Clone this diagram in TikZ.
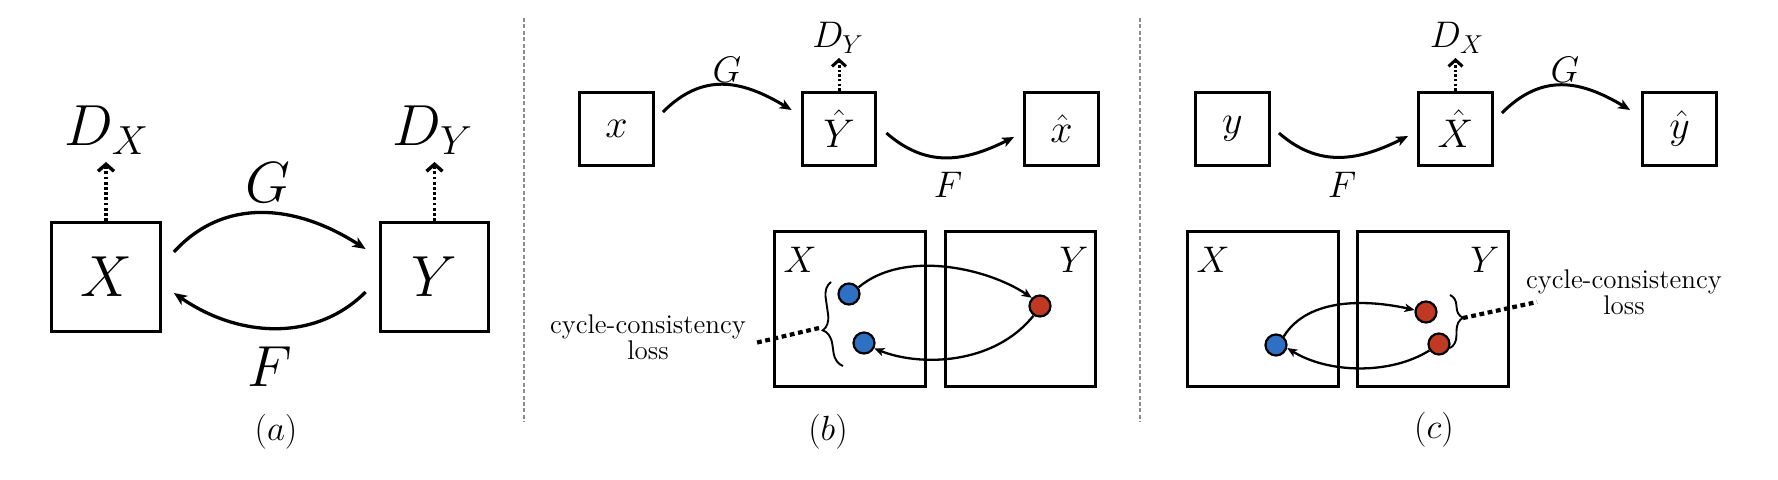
\RequirePackage{fix-cm}
\documentclass[tikz,border=0pt]{standalone}
\usetikzlibrary{arrows.meta,calc,decorations.pathreplacing}
\definecolor{dotblue}{RGB}{46,112,196}
\definecolor{dotred}{RGB}{192,57,34}
\begin{document}
\begin{tikzpicture}[x=0.5pt,y=-0.5pt,
  box/.style={draw, line width=1.6pt, inner sep=0pt},
  abox/.style={box, minimum size=54.3pt},
  sbox/.style={box, minimum size=36.8pt},
  lbox/.style={box, minimum width=75.3pt, minimum height=77.3pt},
  fbig/.style={font=\fontsize{29pt}{35pt}\selectfont},
  fmid/.style={font=\fontsize{20pt}{24pt}\selectfont},
  flab/.style={font=\fontsize{18.5pt}{22pt}\selectfont},
  fcorner/.style={font=\fontsize{18.5pt}{22pt}\selectfont},
  fcap/.style={font=\fontsize{17.5pt}{21pt}\selectfont},
  losstxt/.style={font=\fontsize{13.5pt}{13pt}\selectfont, align=center, inner sep=0pt},
  arrA/.style={line width=1.65pt, -{Stealth[length=6.5pt,width=5.5pt,inset=1.8pt]}},
  arrB/.style={line width=1.5pt, -{Stealth[length=6pt,width=5pt,inset=1.6pt]}},
  arrC/.style={line width=1.15pt, -{Stealth[length=5pt,width=4.2pt,inset=1.3pt]}},
  darrA/.style={line width=1.7pt, dash pattern=on 1.4pt off 1.2pt, -{Straight Barb[length=3.5pt,width=8pt]}},
  darrB/.style={line width=1.5pt, dash pattern=on 1.2pt off 1.1pt, -{Straight Barb[length=3.2pt,width=7pt]}},
  dotnode/.style={circle, draw, line width=1.1pt, minimum size=10.5pt, inner sep=0pt},
  sepline/.style={draw=black!45, line width=0.6pt, dash pattern=on 2pt off 1.2pt},
  lossline/.style={line width=2.1pt, dash pattern=on 2.4pt off 1.8pt},
  bracestyle/.style={decorate, line width=0.95pt}
]
\useasboundingbox (0,0) rectangle (1778,480);

% separators
\coordinate (s1a) at (524,18); \coordinate (s1b) at (524,422);
\coordinate (s2a) at (1140,18); \coordinate (s2b) at (1140,422);
\draw[sepline] (s1a) -- (s1b);
\draw[sepline] (s2a) -- (s2b);

% ---------- panel (a)
\node[abox, fbig] (aX) at (106,277) {$X$};
\node[abox, fbig] (aY) at (434.5,277) {$Y$};
\node[fbig, anchor=base] (aDX) at (107,146) {$D_X$};
\node[fbig, anchor=base] (aDY) at (433,146) {$D_Y$};
\draw[darrA, shorten >=8pt] (aX.north) -- (aX.north |- aDX.base);
\draw[darrA, shorten >=8pt] (aY.north) -- (aY.north |- aDY.base);
\draw[arrA] ($(aX.east)+(12,-25)$) .. controls +(50,-55) and +(-70,-45) .. ($(aY.west)+(-13,-28)$);
\draw[arrA] ($(aY.west)+(-13,15)$) .. controls +(-50,50) and +(65,45) .. ($(aX.east)+(12,16)$);
\node[fbig] (aG) at (268,183) {$G$};
\node[fbig] (aF) at (270,367) {$F$};
\node[fcap] (ca) at (276,432) {$(a)$};

% ---------- panel (b)
\node[sbox, fmid] (bx) at (616.5,129) {$x$};
\node[sbox, fmid] (bY) at (839,129) {$\hat{Y}$};
\node[sbox, fmid] (bxh) at (1061.5,129) {$\hat{x}$};
\draw[arrB] ($(bx.east)+(8,-17)$) .. controls +(40,-40) and +(-50,-30) .. ($(bY.west)+(-9,-19)$);
\draw[arrB] ($(bY.east)+(9,4)$) .. controls +(40,35) and +(-50,25) .. ($(bxh.west)+(-9,8)$);
\node[flab] (bG) at (727,70) {$G$};
\node[flab] (bF) at (948,185) {$F$};
\node[flab, anchor=base] (bDY) at (838,48) {$D_Y$};
\draw[darrB, shorten >=5pt] (bY.north) -- (bY.north |- bDY.base);

\node[lbox] (bXX) at (850,309) {};
\node[lbox] (bYY) at (1020.5,309) {};
\node[fcorner] (bXl) at (800,260) {$X$};
\node[fcorner] (bYl) at (1074,260) {$Y$};
\node[dotnode, fill=dotblue] (b1) at (849,294) {};
\node[dotnode, fill=dotblue] (b2) at (864,343) {};
\node[dotnode, fill=dotred] (br) at (1040,306) {};
\draw[arrC] (b1.35) .. controls +(45,-38) and +(-45,-30) .. (br.135);
\draw[arrC] (br.236) .. controls +(-40,50) and +(45,18) .. (b2.-28);
\coordinate (bb1) at (843,366); \coordinate (bb2) at (831,282);
\draw[bracestyle, decoration={brace, amplitude=7.5pt, aspect=0.45}] (bb1) -- (bb2);
\coordinate (btip) at (819,328); \coordinate (bend) at (755,343);
\draw[lossline] (btip) -- (bend);
\node[losstxt, anchor=north] (blt) at (648,314) {cycle-consistency\\loss};
\node[fcap] (cb) at (828,432) {$(b)$};

% ---------- panel (c)
\node[sbox, fmid] (cy) at (1232.5,129) {$y$};
\node[sbox, fmid] (cX) at (1455.5,129) {$\hat{X}$};
\node[sbox, fmid] (cyh) at (1679.5,129) {$\hat{y}$};
\draw[arrB] ($(cy.east)+(8,4)$) .. controls +(40,35) and +(-50,25) .. ($(cX.west)+(-9,7)$);
\draw[arrB] ($(cX.east)+(8,-16)$) .. controls +(40,-40) and +(-50,-30) .. ($(cyh.west)+(-11,-19)$);
\node[flab] (cF) at (1342,185) {$F$};
\node[flab] (cG) at (1565,70) {$G$};
\node[flab, anchor=base] (cDX) at (1457,48) {$D_X$};
\draw[darrB, shorten >=5pt] (cX.north) -- (cX.north |- cDX.base);

\node[lbox] (cXX) at (1263,309) {};
\node[lbox] (cYY) at (1433,309) {};
\node[fcorner] (cXl) at (1213,260) {$X$};
\node[fcorner] (cYl) at (1485,260) {$Y$};
\node[dotnode, fill=dotblue] (c1) at (1276,345) {};
\node[dotnode, fill=dotred] (cr1) at (1426,312) {};
\node[dotnode, fill=dotred] (cr2) at (1439,344) {};
\draw[arrC] (c1.48) .. controls +(25,-40) and +(-45,-10) .. (cr1.170);
\draw[arrC] (cr2.214) .. controls +(-40,25) and +(40,25) .. (c1.-15);
\coordinate (cb1) at (1450,295); \coordinate (cb2) at (1450,348);
\draw[bracestyle, decoration={brace, amplitude=6.5pt, aspect=0.43}] (cb1) -- (cb2);
\coordinate (ctip) at (1463,318); \coordinate (cend) at (1537,302);
\draw[lossline] (ctip) -- (cend);
\node[losstxt, anchor=north] (clt) at (1624,269) {cycle-consistency\\loss};
\node[fcap] (cc) at (1434,430) {$(c)$};
\end{tikzpicture}
\end{document}
